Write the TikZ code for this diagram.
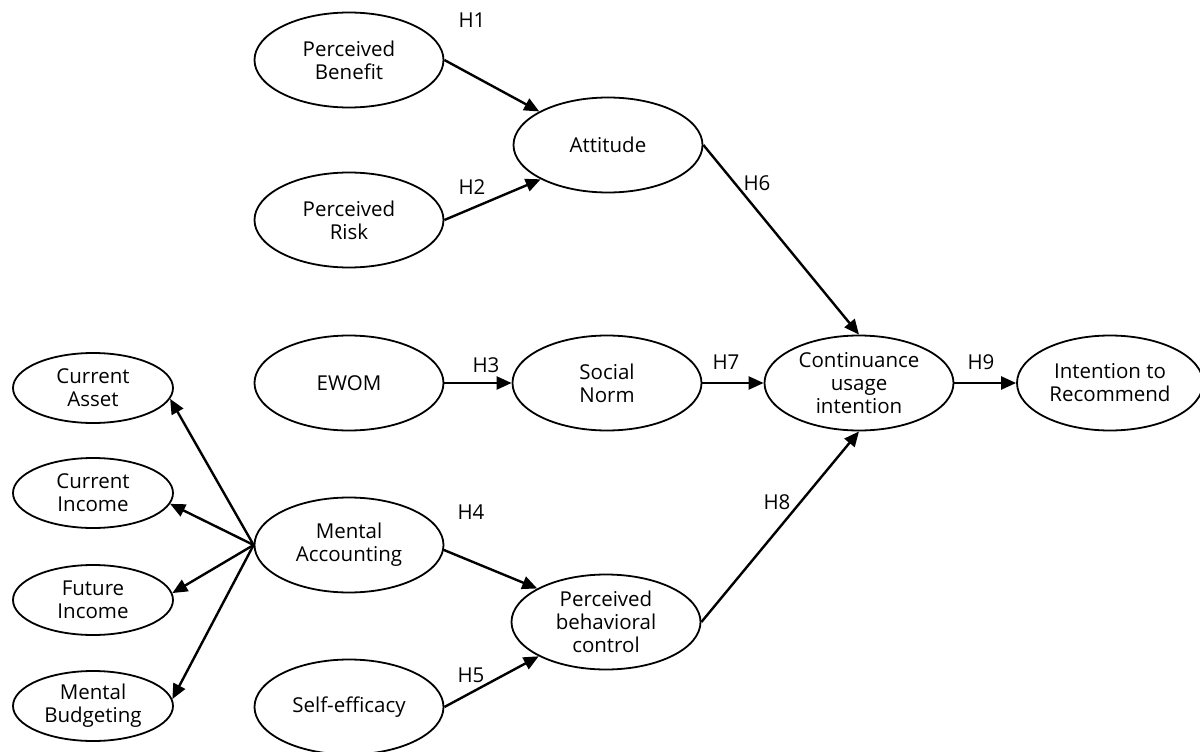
\documentclass[tikz,border=0pt]{standalone}
\usepackage{fontspec}
\setmainfont{Open Sans}
\usetikzlibrary{arrows.meta,shapes.geometric}
\begin{document}
\begin{tikzpicture}[x=1pt,y=-1pt,
 big/.style={ellipse,draw,line width=1.8pt,minimum width=189pt,minimum height=95pt,inner sep=0pt,align=center,font=\fontsize{20.5}{23}\selectfont},
 small/.style={big,minimum width=160pt,minimum height=70pt},
 arr/.style={line width=2.4pt,-{Triangle[length=15pt,width=13pt]}},
 lab/.style={font=\fontsize{20.5}{22}\selectfont,inner sep=0pt}]
\useasboundingbox (0,0) rectangle (1200,752);
\node[big] (pb) at (349,60) {Perceived\\Benefit};
\node[big] (pr) at (349,220) {Perceived\\Risk};
\node[big] (att) at (608,145) {Attitude};
\node[big] (ewom) at (349,383) {EWOM};
\node[big] (sn) at (607,383) {Social\\Norm};
\node[big] (cui) at (859,383) {Continuance\\usage\\intention};
\node[big,minimum width=186pt] (itr) at (1110,383) {Intention to\\Recommend};
\node[big] (ma) at (349,545) {Mental\\Accounting};
\node[big] (pbc) at (606,622) {Perceived\\behavioral\\control};
\node[big] (se) at (349,707) {Self-efficacy};
\node[small] (ca) at (93,388) {Current\\Asset};
\node[small] (ci) at (93,493) {Current\\Income};
\node[small] (fi) at (93,600) {Future\\Income};
\node[small] (mb) at (93,706) {Mental\\Budgeting};

\draw[arr] (pb.east) -- (att.154);
\draw[arr] (pr.east) -- (att.207);
\draw[arr] (att.east) -- (cui.north);
\draw[arr] (ewom.east) -- (sn.west);
\draw[arr] (sn.east) -- (cui.west);
\draw[arr] (cui.east) -- (itr.west);
\draw[arr] (ma.-3) -- (pbc.154);
\draw[arr] (se.east) -- (pbc.207);
\draw[arr] (pbc.east) -- (cui.south);
\draw[arr] (ma.west) -- (ca.-8);
\draw[arr] (ma.west) -- (ci.-8);
\draw[arr] (ma.west) -- (fi.5);
\draw[arr] (ma.west) -- (mb.5);

\node[lab] (h1) at (472,20) {H1};
\node[lab] (h2) at (472,187) {H2};
\node[lab] (h3) at (486,365) {H3};
\node[lab] (h4) at (471,512) {H4};
\node[lab] (h5) at (471,675) {H5};
\node[lab] (h6) at (757,183) {H6};
\node[lab] (h7) at (726,362) {H7};
\node[lab] (h8) at (777,502) {H8};
\node[lab] (h9) at (981,362) {H9};
\end{tikzpicture}
\end{document}
